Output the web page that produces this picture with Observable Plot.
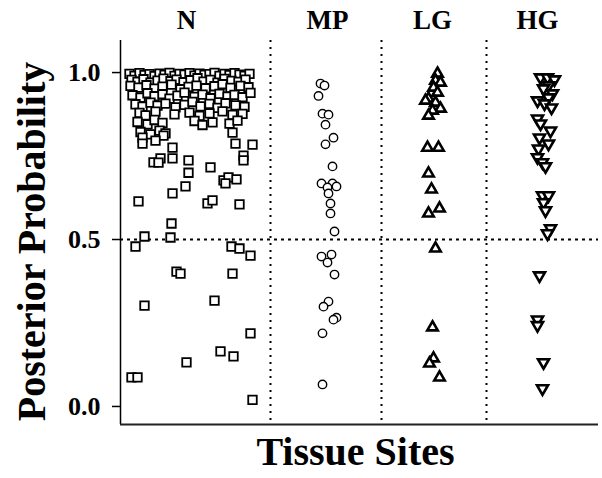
<!DOCTYPE html>
<html>
<head>
<meta charset="utf-8">
<script src="https://cdn.jsdelivr.net/npm/d3@7"></script>
<script src="https://cdn.jsdelivr.net/npm/@observablehq/plot@0.6"></script>
<style>
  html, body { margin: 0; padding: 0; background: #fff; }
</style>
</head>
<body>
<div id="chart"></div>
<script>
// Category labels and their horizontal centre (position units along the x axis)
const categories = ["N", "MP", "LG", "HG"];
const categoryCenters = [66, 207, 312, 417];
const dividers = [150, 261, 366];
const yTicks = [0, 0.5, 1];
const threshold = 0.5;

// [horizontal jitter position, posterior probability]
const nSquares = [
  [9,.996],[14,.990],[19,.998],[24,.992],[29,.995],[34,.989],[39,.997],[44,.993],[49,.999],[54,.990],[59,.996],[64,.994],[69,.998],[74,.991],[79,.997],[84,.993],[89,.995],[94,.999],[99,.990],[104,.996],[109,.992],[114,.998],[119,.994],[124,.990],[129,.996],
  [11,.978],[17,.972],[23,.980],[30,.970],[37,.976],[43,.982],[50,.974],[56,.979],[63,.971],[70,.977],[77,.983],[83,.973],[90,.978],[97,.970],[104,.981],[111,.975],[118,.972],[125,.979],
  [10,.960],[18,.955],[26,.962],[34,.952],[42,.958],[51,.964],[60,.950],[68,.957],[76,.961],[85,.953],[94,.959],[102,.965],[110,.954],[120,.960],[128,.956],
  [12,.932],[20,.925],[27,.938],[34,.929],[42,.935],[49,.922],[57,.931],[64,.940],[74,.927],[82,.934],[90,.923],[99,.936],[107,.928],[114,.933],[122,.926],[130,.939],
  [15,.905],[22,.898],[30,.910],[37,.901],[45,.907],[55,.896],[64,.903],[72,.912],[80,.899],[89,.906],[97,.894],[105,.908],[115,.902],[124,.897],
  [19,.879],[25,.872],[35,.883],[54,.875],[69,.880],[79,.870],[89,.878],[102,.884],[112,.873],[122,.876],
  [17,.852],[27,.845],[34,.858],[42,.849],[74,.855],[82,.843],[92,.851],[109,.847],[117,.856],
  [20,.822],[30,.815],[39,.826],[45,.818],[112,.820],
  [22,.805],[22,.787],[43,.811],[35,.796],[52,.775],[115,.787],[132,.784],[123,.751],[33,.731],[40,.743],[52,.743],[68,.737],[90,.716],[38,.730],[68,.700],[123,.737],
  [103,.677],[108,.686],[105,.668],[116,.680],[65,.659],[52,.638],[18,.614],[87,.608],[92,.617],[119,.605],[51,.548],[24,.509],[50,.506],[15,.479],[111,.479],[119,.473],[130,.452],
  [56,.404],[60,.398],[112,.398],[24,.302],[94,.317],[130,.219],[100,.165],[113,.150],[66,.132],[11,.087],[17,.087],[132,.020]
];
const mpCircles = [
  [200,.967],[204,.961],[198,.930],[202,.877],[208,.874],[205,.844],[213,.805],[205,.785],[212,.719],[201,.668],[212,.668],[216,.659],[207,.656],[208,.638],[210,.608],[210,.578],[214,.524],
  [201,.449],[211,.455],[207,.431],[214,.395],[208,.314],[203,.299],[216,.266],[213,.260],[202,.219],[202,.066]
];
const lgTriangles = [
  [317,.997],[315,.976],[320,.970],[313,.955],[317,.940],[308,.922],[305,.916],[315,.910],[320,.892],[312,.886],[308,.871],[307,.775],[318,.775],[308,.698],[311,.650],[308,.578],[319,.593],
  [315,.473],[312,.237],[313,.144],[309,.129],[319,.087]
];
const hgTriangles = [
  [420,.985],[427,.985],[434,.979],[428,.961],[423,.952],[432,.937],[428,.925],[417,.916],[424,.907],[431,.895],[417,.862],[420,.847],[430,.826],[419,.805],[428,.787],[418,.772],[417,.746],[422,.731],[425,.719],
  [422,.632],[428,.632],[423,.611],[425,.587],[430,.533],[427,.518],[419,.392],[417,.260],[417,.243],[423,.132],[422,.054]
];

const font = "'Liberation Serif', 'Times New Roman', 'DejaVu Serif', serif";
const nameByCenter = new Map(categoryCenters.map((c, i) => [c, categories[i]]));
const yMin = -0.054, yMax = 1.096;

const triangleDown = {
  draw(context, size) {
    const y = -Math.sqrt(size / (Math.sqrt(3) * 3));
    context.moveTo(0, -y * 2);
    context.lineTo(-Math.sqrt(3) * y, y);
    context.lineTo(Math.sqrt(3) * y, y);
    context.closePath();
  }
};

const dotOpts = {x: d => d[0], y: d => d[1], fill: "white", stroke: "black"};

const chart = Plot.plot({
  width: 602,
  height: 478,
  marginLeft: 120,
  marginRight: 4,
  marginTop: 40,
  marginBottom: 54,
  x: {domain: [0, 478], axis: null},
  y: {domain: [yMin, yMax], axis: null},
  style: {fontFamily: font, fontWeight: "bold", background: "white", color: "black"},
  marks: [
    Plot.ruleX(dividers, {stroke: "black", strokeWidth: 2, strokeDasharray: "2,5"}),
    Plot.ruleY([threshold], {stroke: "black", strokeWidth: 2, strokeDasharray: "3,4"}),
    Plot.dot(nSquares, {...dotOpts, symbol: "square", r: 4.8, strokeWidth: 1.8}),
    Plot.dot(mpCircles, {...dotOpts, symbol: "circle", r: 4.2, strokeWidth: 1.4}),
    Plot.dot(lgTriangles, {...dotOpts, symbol: "triangle", r: 3.9, strokeWidth: 2.6}),
    Plot.dot(hgTriangles, {...dotOpts, symbol: triangleDown, r: 4.1, strokeWidth: 2.6}),
    Plot.ruleX([0], {stroke: "black", strokeWidth: 1.5}),
    Plot.ruleY([yMin], {stroke: "#222", strokeWidth: 2}),
    Plot.axisY({ticks: yTicks, tickFormat: d3.format(".1f"), tickSize: 8, tickPadding: 12, fontSize: 26, fontWeight: "bold", strokeWidth: 1.5, label: null}),
    Plot.axisX({anchor: "top", ticks: categoryCenters, tickFormat: d => nameByCenter.get(d), tickSize: 0, tickPadding: 12, fontSize: 27, fontWeight: "bold", label: null}),
    Plot.text(["Posterior Probability"], {frameAnchor: "left", rotate: -90, dx: -88, dy: 9, textAnchor: "middle", lineAnchor: "middle", fontSize: 40, fontWeight: "bold"}),
    Plot.text(["Tissue Sites"], {frameAnchor: "bottom", dx: -4, dy: 28, textAnchor: "middle", lineAnchor: "middle", fontSize: 40, fontWeight: "bold"})
  ]
});
document.getElementById("chart").appendChild(chart);
</script>
</body>
</html>
